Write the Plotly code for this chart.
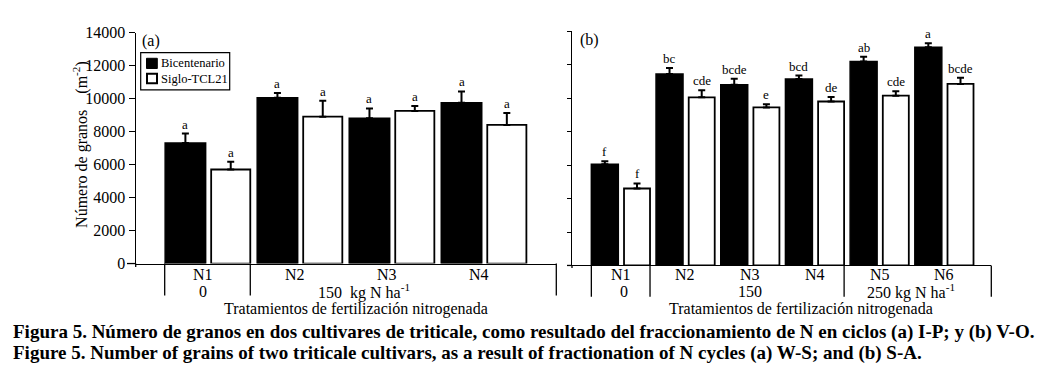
import plotly.graph_objects as go

# ---------------- data ----------------
treat_a = ["N1", "N2", "N3", "N4"]
bic_a = [7300, 10050, 8800, 9750]
bic_a_err = [580, 280, 600, 680]
sig_a = [5700, 8900, 9250, 8400]
sig_a_err = [470, 960, 300, 720]
let_bic_a = ["a", "a", "a", "a"]
let_sig_a = ["a", "a", "a", "a"]

treat_b = ["N1", "N2", "N3", "N4", "N5", "N6"]
bic_b = [6050, 11450, 10800, 11150, 12200, 13050]
bic_b_err = [180, 360, 360, 200, 270, 230]
sig_b = [4600, 10050, 9450, 9800, 10150, 10850]
sig_b_err = [300, 420, 190, 270, 260, 370]
let_bic_b = ["f", "bc", "bcde", "bcd", "ab", "a"]
let_sig_b = ["f", "cde", "e", "de", "cde", "bcde"]

y_ticks = [0, 2000, 4000, 6000, 8000, 10000, 12000, 14000]
series_names = ["Bicentenario", "Siglo-TCL21"]

# ---------------- geometry helpers ----------------
W, H = 1053, 375
FONT = "Liberation Serif"


def px(x):
    return x / W


def py(y):
    return 1 - y / H


xa_dom = [px(127.7), px(548.3)]
ya_dom = [py(259.3), py(17.3)]
xb_dom = [px(564), px(983.3)]
yb_dom = [py(261.3), py(16.0)]
xa_rng = [-0.78, 3.79]
xb_rng = [-0.753, 5.728]


def d2p(x, dom, rng):
    return dom[0] + (x - rng[0]) / (rng[1] - rng[0]) * (dom[1] - dom[0])


pos_a = list(range(len(treat_a)))
pos_b = list(range(len(treat_b)))

fig = go.Figure()

# bar geometry per panel: (offset, width) for black and white bars
geo_a = {"bic": (-0.46, 0.44), "sig": (0.04, 0.425)}
geo_b = {"bic": (-0.454, 0.417), "sig": (0.051, 0.402)}


def add_panel(pos, bic, bic_err, sig, sig_err, geo, xa, ya):
    n = len(pos)
    fig.add_bar(x=pos, y=bic, offset=geo["bic"][0], width=geo["bic"][1],
                marker=dict(color="black", line=dict(color="black", width=1.5)),
                error_y=dict(type="data", array=bic_err, arrayminus=[0] * n,
                             symmetric=False, color="black", thickness=2, width=3.5),
                xaxis=xa, yaxis=ya, showlegend=False, name=series_names[0])
    fig.add_bar(x=pos, y=sig, offset=geo["sig"][0], width=geo["sig"][1],
                marker=dict(color="white", line=dict(color="black", width=1.8)),
                error_y=dict(type="data", array=sig_err, arrayminus=[0] * n,
                             symmetric=False, color="black", thickness=2, width=3.5),
                xaxis=xa, yaxis=ya, showlegend=False, name=series_names[1])


add_panel(pos_a, bic_a, bic_a_err, sig_a, sig_a_err, geo_a, "x", "y")
add_panel(pos_b, bic_b, bic_b_err, sig_b, sig_b_err, geo_b, "x2", "y2")

ann = []
shapes = []


def note(x, y, text, font, xanchor="center", yanchor="middle", xref="paper", yref="paper", **kw):
    ann.append(dict(x=x, y=y, xref=xref, yref=yref, text=text, showarrow=False,
                    xanchor=xanchor, yanchor=yanchor, font=font, **kw))


# significance letters
let_font = dict(family=FONT, size=13, color="black")


def add_letters(pos, vals, errs, letters, off, wid, xr, yr):
    for p, v, e, t in zip(pos, vals, errs, letters):
        note(p + off + wid / 2, v + e, t, let_font, yanchor="bottom", xref=xr, yref=yr)


add_letters(pos_a, bic_a, bic_a_err, let_bic_a, *geo_a["bic"], "x", "y")
add_letters(pos_a, sig_a, sig_a_err, let_sig_a, *geo_a["sig"], "x", "y")
add_letters(pos_b, bic_b, bic_b_err, let_bic_b, *geo_b["bic"], "x2", "y2")
add_letters(pos_b, sig_b, sig_b_err, let_sig_b, *geo_b["sig"], "x2", "y2")

lab_font = dict(family=FONT, size=16, color="black")

# treatment labels
for p, t in zip(pos_a, treat_a):
    note(d2p(p - 0.05, xa_dom, xa_rng), py(271), t, lab_font)
for p, t in zip(pos_b, treat_b):
    note(d2p(p, xb_dom, xb_rng), py(271), t, lab_font)

# dose labels
dose_a = [(-0.05, "0"), (1.7, "150\u00a0\u00a0kg N ha<sup>-1</sup>")]
dose_b = [(0.05, "0"), (2.0, "150"), (4.48, "250 kg N ha<sup>-1</sup>")]
for x, t in dose_a:
    note(d2p(x, xa_dom, xa_rng), py(289), t, lab_font)
for x, t in dose_b:
    note(d2p(x, xb_dom, xb_rng), py(289), t, lab_font)

# x titles
for xc in (348, 793):
    note(px(xc), py(306.5), "Tratamientos de fertilización nitrogenada", lab_font)

# y title
note(px(73), py(135), "Número de granos\u00a0\u00a0\u00a0\u00a0(m<sup>-2</sup>)", lab_font,
     textangle=-90)

# panel labels
note(px(132), py(26.7), "(a)", lab_font, xanchor="left")
note(px(570), py(25), "(b)", lab_font, xanchor="left")

# manual legend
shapes.append(dict(type="rect", xref="paper", yref="paper", x0=px(132.7), x1=px(221.7),
                   y0=py(77.3), y1=py(38.3), line=dict(color="black", width=1.2)))
shapes.append(dict(type="rect", xref="paper", yref="paper", x0=px(138.5), x1=px(149.3),
                   y0=py(55), y1=py(44.3), line=dict(color="black", width=1),
                   fillcolor="black"))
shapes.append(dict(type="rect", xref="paper", yref="paper", x0=px(139), x1=px(149),
                   y0=py(70.5), y1=py(60.5), line=dict(color="black", width=2),
                   fillcolor="white"))
leg_font = dict(family=FONT, size=12.5, color="black")
note(px(150.5), py(49.7), series_names[0], leg_font, xanchor="left")
note(px(150.5), py(65.5), series_names[1], leg_font, xanchor="left")

# group separator lines below the x axes
line_style = dict(color="black", width=1.3)
for xd in (-0.465, 0.465, xa_rng[1]):
    xp = d2p(xd, xa_dom, xa_rng)
    shapes.append(dict(type="line", xref="paper", yref="paper", x0=xp, x1=xp,
                       y0=py(259.3), y1=py(292.7), line=line_style))
for xd in (-0.454, 0.453, 3.453, xb_rng[1]):
    xp = d2p(xd, xb_dom, xb_rng)
    shapes.append(dict(type="line", xref="paper", yref="paper", x0=xp, x1=xp,
                       y0=py(261.3), y1=py(294), line=line_style))
# small axis extensions
shapes.append(dict(type="line", xref="paper", yref="paper", x0=px(119), x1=px(127.7),
                   y0=py(259.3), y1=py(259.3), line=line_style))
shapes.append(dict(type="line", xref="paper", yref="paper", x0=px(127.7), x1=px(127.7),
                   y0=py(259.3), y1=py(263), line=line_style))
shapes.append(dict(type="line", xref="paper", yref="paper", x0=px(559), x1=px(564),
                   y0=py(261.3), y1=py(261.3), line=line_style))
shapes.append(dict(type="line", xref="paper", yref="paper", x0=px(564), x1=px(564),
                   y0=py(261.3), y1=py(264), line=line_style))

# captions
cap_font = dict(family=FONT, size=19, color="black", weight="bold")
note(px(3), py(331),
     "Figura 5. Número de granos en dos cultivares de triticale, como resultado "
     "del fraccionamiento de N en ciclos (a) I-P; y (b) V-O.", cap_font, xanchor="left")
note(px(3), py(353.5),
     "Figure 5. Number of grains of two triticale cultivars, as a result of "
     "fractionation of N cycles (a) W-S; and (b) S-A.", cap_font, xanchor="left")

xcommon = dict(showline=True, linecolor="black", linewidth=1.3, showticklabels=False,
               ticks="", showgrid=False, zeroline=False)
ycommon = dict(range=[0, 14000], showline=True, linecolor="black", linewidth=1.3,
               ticks="outside", tickcolor="black", tickwidth=1.3, tickvals=y_ticks,
               tickformat="d", showgrid=False, zeroline=False)

fig.update_layout(
    width=W, height=H,
    margin=dict(l=0, r=0, t=0, b=0),
    paper_bgcolor="white", plot_bgcolor="white",
    barmode="overlay",
    showlegend=False,
    xaxis=dict(domain=xa_dom, range=xa_rng, anchor="y", **xcommon),
    yaxis=dict(domain=ya_dom, anchor="x", ticklen=6, showticklabels=True,
               tickfont=dict(family=FONT, size=16, color="black"), **ycommon),
    xaxis2=dict(domain=xb_dom, range=xb_rng, anchor="y2", **xcommon),
    yaxis2=dict(domain=yb_dom, anchor="x2", ticklen=4, showticklabels=False, **ycommon),
    annotations=ann,
    shapes=shapes,
)

fig.write_html("out.html")
